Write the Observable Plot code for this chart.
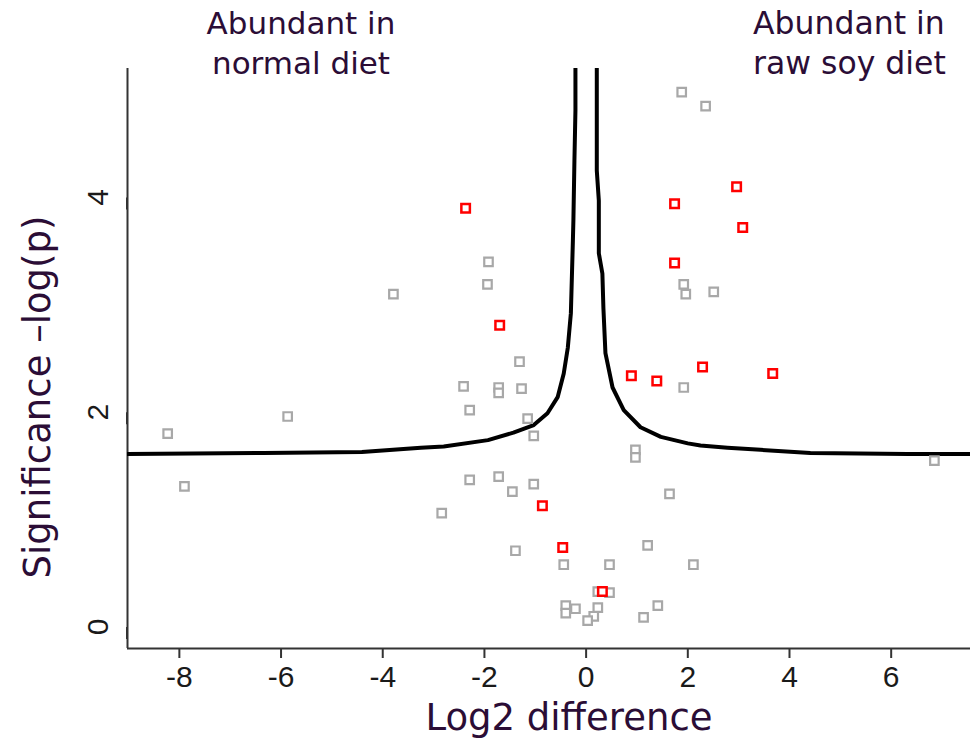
<!DOCTYPE html>
<html>
<head>
<meta charset="utf-8">
<script src="https://cdn.jsdelivr.net/npm/d3@7"></script>
<script src="https://cdn.jsdelivr.net/npm/@observablehq/plot@0.6"></script>
<style>
  body { margin: 0; background: #fff; }
  #wrap { position: relative; width: 970px; height: 747px; overflow: hidden; }
  #wrap svg { position: absolute; left: 0; top: 0; }
  #wrap svg text { font-family: "Liberation Sans", Arial, sans-serif; font-size: 30px; }
  .lbl { position: absolute; font-family: "DejaVu Sans", Verdana, sans-serif; color: #2b0d36; white-space: nowrap; }
</style>
</head>
<body>
<div id="wrap">
  <div class="lbl" id="ann1" style="left:301px; top:3px; font-size:31px; line-height:40px; text-align:center; transform:translateX(-50%);">Abundant in<br>normal diet</div>
  <div class="lbl" id="ann2" style="left:753px; top:3px; font-size:31.5px; line-height:40px; text-align:left;">Abundant in<br>raw soy diet</div>
  <div class="lbl" id="xlab" style="left:569px; top:696px; font-size:37px; line-height:44px; transform:translateX(-50%);">Log2 difference</div>
  <div class="lbl" id="ylab" style="left:38px; top:397px; font-size:37px; line-height:40px; transform:translate(-50%,-50%) rotate(-90deg);">Significance –log(p)</div>
</div>
<script>
// Non-significant proteins (grey squares)
const greyX = [1.88, 2.35, -3.79, -1.92, -1.94, 1.92, 1.96, 2.51, -1.31, -2.41, -1.72, -1.72, -1.27, -2.29, -1.15, -1.03, 1.92, -5.87, -8.23, -7.90, 0.97, 0.97, 6.85, -2.29, -1.72, -1.45, -1.03, -2.84, 1.64, -1.39, 1.21, -0.44, 0.46, 2.11, 0.23, 0.46, -0.40, -0.21, -0.40, 0.23, 0.15, 0.03, 1.13, 1.41];
const greyY = [4.98, 4.85, 3.10, 3.40, 3.19, 3.19, 3.10, 3.12, 2.47, 2.24, 2.23, 2.18, 2.22, 2.02, 1.94, 1.78, 2.23, 1.96, 1.80, 1.31, 1.65, 1.58, 1.55, 1.37, 1.40, 1.26, 1.33, 1.06, 1.24, 0.71, 0.76, 0.58, 0.58, 0.58, 0.33, 0.32, 0.20, 0.17, 0.13, 0.18, 0.10, 0.06, 0.09, 0.20];
// Highlighted proteins (red squares)
const redX = [-2.37, 1.74, 2.96, 3.08, 1.74, -1.70, 0.89, 1.39, 2.29, 3.67, -0.86, -0.46, 0.32];
const redY = [3.90, 3.94, 4.10, 3.72, 3.39, 2.81, 2.34, 2.29, 2.42, 2.36, 1.13, 0.74, 0.33];
// Significance threshold curve
const leftCurveX = [-9.02, -6.34, -4.41, -3.25, -2.80, -1.93, -1.43, -1.03, -0.76, -0.56, -0.44, -0.36, -0.30, -0.26, -0.25, -0.23, -0.21, -0.21];
const leftCurveY = [1.61, 1.62, 1.63, 1.67, 1.68, 1.74, 1.81, 1.88, 1.99, 2.14, 2.36, 2.60, 2.92, 3.60, 3.79, 4.34, 4.81, 5.20];
const rightCurveX = [0.21, 0.21, 0.25, 0.25, 0.32, 0.34, 0.38, 0.52, 0.74, 1.07, 1.47, 2.00, 2.25, 2.78, 3.43, 4.41, 6.32, 7.56];
const rightCurveY = [5.20, 4.25, 3.97, 3.48, 3.29, 2.97, 2.55, 2.23, 2.02, 1.86, 1.77, 1.71, 1.69, 1.67, 1.65, 1.62, 1.61, 1.61];
const xTicks = [-8, -6, -4, -2, 0, 2, 4, 6];
const yTicks = [0, 2, 4];

const grey = greyX.map((x, i) => ({x, y: greyY[i]}));
const red = redX.map((x, i) => ({x, y: redY[i]}));
const leftCurve = leftCurveX.map((x, i) => ({x, y: leftCurveY[i]}));
const rightCurve = rightCurveX.map((x, i) => ({x, y: rightCurveY[i]}));

const xDomain = [-9.02, 7.56];
const yDomain = [-0.2, 5.2];

const chart = Plot.plot({
  width: 970,
  height: 747,
  marginLeft: 127,
  marginRight: 0,
  marginTop: 68,
  marginBottom: 99,
  style: {background: "transparent", fontFamily: "'Liberation Sans', Arial, sans-serif", fontSize: "30px"},
  x: {domain: xDomain, label: null},
  y: {domain: yDomain, label: null},
  marks: [
    Plot.axisX({ticks: xTicks, tickSize: 10, tickPadding: 7, tickFormat: d => String(d), fontSize: 30, fill: "#1a1a1a", stroke: "#333", strokeWidth: 2, label: null}),
    Plot.axisY({ticks: yTicks, tickSize: 12, tickPadding: 8, tickFormat: d => String(d), fontSize: 30, fill: "#1a1a1a", stroke: "#333", strokeWidth: 2, rotate: -90, textAnchor: "middle", lineAnchor: "bottom", label: null}),
    Plot.ruleY([yDomain[0]], {stroke: "#333", strokeWidth: 2}),
    Plot.ruleX([xDomain[0]], {stroke: "#333", strokeWidth: 2}),
    Plot.line(leftCurve, {x: "x", y: "y", stroke: "#000", strokeWidth: 4, strokeLinejoin: "round", clip: true}),
    Plot.line(rightCurve, {x: "x", y: "y", stroke: "#000", strokeWidth: 4, strokeLinejoin: "round", clip: true}),
    Plot.dot(grey, {x: "x", y: "y", symbol: "square", r: 4.8, stroke: "#a8a8a8", strokeWidth: 2.2, fill: "white"}),
    Plot.dot(red, {x: "x", y: "y", symbol: "square", r: 4.8, stroke: "#ff0000", strokeWidth: 2.5, fill: "white"})
  ]
});
document.getElementById("wrap").prepend(chart);
</script>
</body>
</html>
